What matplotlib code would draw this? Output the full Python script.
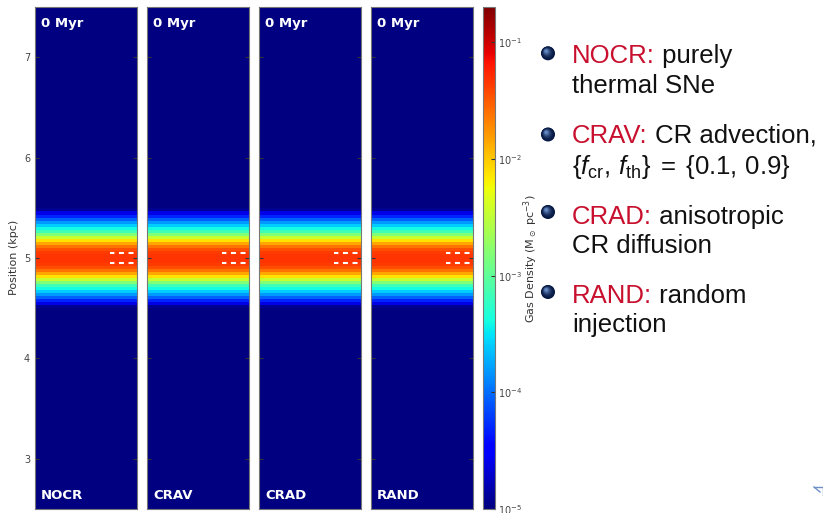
"""
gas density slices at t = 0 for the four runs, with bullet list of run names
"""

import numpy as np
import matplotlib.pyplot as plt
from matplotlib.colors import LogNorm, to_rgb
from matplotlib.patches import Circle

plt.rcParams['mathtext.fontset'] = 'dejavusans'
plt.rcParams['mathtext.rm'] = 'Liberation Sans'
plt.rcParams['mathtext.it'] = 'Liberation Sans:italic'
plt.rcParams['mathtext.bf'] = 'Liberation Sans:bold'

runs = ["NOCR", "CRAV", "CRAD", "RAND"]
time_label = "0 Myr"

# vertical density profile of the disc, offsets from midplane
disc_centre = 5.0  # kpc
offset_kpc = [0.00, 0.03, 0.06, 0.09, 0.12, 0.15, 0.18, 0.21, 0.24,
              0.27, 0.30, 0.33, 0.36, 0.39, 0.42, 0.45, 0.48]
density = [0.046, 0.046, 0.044, 0.036, 0.024, 0.014, 0.0075, 0.0035, 0.0015,
           7e-4, 4e-4, 2.5e-4, 1.5e-4, 9e-5, 5e-5, 2.5e-5, 1.2e-5]
background = 8e-6
z_range = (2.5, 7.5)
cell = 0.03

# markers of the injection region (white dashed lines)
inject_z = [5.05, 4.95]

d_min, d_max = 1e-5, 0.2

bullet_names = ["NOCR:", "CRAV:", "CRAD:", "RAND:"]
bullet_first = [" purely", " CR advection,", " anisotropic", " random"]
bullet_second = ["thermal SNe",
                 r"$\{f_{\mathrm{cr}},\, f_{\mathrm{th}}\}\;=\;\{0.1,\, 0.9\}$",
                 "CR diffusion", "injection"]

# build the 1-column image
z_off = np.concatenate([-np.array(offset_kpc[::-1]), np.array(offset_kpc[1:])])
dens = np.concatenate([np.array(density[::-1]), np.array(density[1:])])
z_c = disc_centre + z_off
edges = np.concatenate([[z_range[0]], z_c - cell / 2, [z_c[-1] + cell / 2, z_range[1]]])
vals = np.concatenate([[background], dens, [background]])

W, H = 823, 513
fig = plt.figure(figsize=(W / 100, H / 100), dpi=100)

top, bot = 7.3, 509
norm = LogNorm(vmin=d_min, vmax=d_max)
for i, run in enumerate(runs):
    x0 = 35 + 112 * i
    ax = fig.add_axes([x0 / W, (H - bot) / H, 101.7 / W, (bot - top) / H])
    mesh = ax.pcolormesh([0, 1], edges, vals[:, None], cmap='jet', norm=norm)
    for zz in inject_z:
        ax.plot([0.74, 1.0], [zz, zz], color='white', lw=1.5,
                linestyle=(0.3, (2.4, 2.2)), solid_capstyle='butt')
    ax.set_xlim(0, 1)
    ax.set_ylim(*z_range)
    ax.set_xticks([])
    ax.set_yticks([3, 4, 5, 6, 7])
    ax.tick_params(axis='y', direction='in', length=3, right=True, color='#333333',
                   labelsize=7, labelcolor='#444444', labelleft=(i == 0))
    for sp in ax.spines.values():
        sp.set_color('#777777')
        sp.set_linewidth(0.8)
    ax.text(0.06, 0.961, time_label, transform=ax.transAxes, color='white',
            fontsize=9.5, fontweight='bold', va='baseline')
    ax.text(0.06, 0.02, run, transform=ax.transAxes, color='white',
            fontsize=9.5, fontweight='bold', va='baseline')

cax = fig.add_axes([483.3 / W, (H - bot) / H, 11.7 / W, (bot - top) / H])
cb = fig.colorbar(mesh, cax=cax)
cb.ax.tick_params(which='major', direction='in', length=3, color='#333333',
                  labelsize=7, labelcolor='#444444', pad=2)
cb.ax.tick_params(which='minor', length=0)
cb.outline.set_edgecolor('#777777')
cb.outline.set_linewidth(0.8)

fig.text(14 / W, (H - 257) / H, "Position (kpc)", rotation=90, ha='center',
         va='center', fontsize=8, color='#333333')
fig.text(531 / W, (H - 259) / H, r"Gas Density (M$_\odot$ pc$^{-3}$)", rotation=90,
         ha='center', va='center', fontsize=8, color='#333333')

# bullet list on the right, in pixel coordinates
ov = fig.add_axes([0, 0, 1, 1])
ov.set_xlim(0, W)
ov.set_ylim(H, 0)
ov.axis('off')

red = '#c8102e'
ink = '#111111'
fs = 18.5
line1_y = [62.7, 142.7, 224.0, 302.7]
line2_y = [93.3, 174.0, 253.3, 331.7]
ball_y = [53.3, 134.5, 212.0, 292.0]

fig.canvas.draw()
rend = fig.canvas.get_renderer()
inv = ov.transData.inverted()
c_dark = np.array(to_rgb('#081a44'))
c_lite = np.array(to_rgb('#6f9ad6'))
for k in range(4):
    t = ov.text(572, line1_y[k], bullet_names[k], color=red, fontsize=fs,
                family='Liberation Sans', va='baseline')
    bb = t.get_window_extent(rend)
    xr = inv.transform((bb.x1, bb.y0))[0]
    ov.text(xr, line1_y[k], bullet_first[k], color=ink, fontsize=fs,
            family='Liberation Sans', va='baseline')
    ov.text(572, line2_y[k], bullet_second[k], color=ink, fontsize=fs,
            family='Liberation Sans', va='baseline', math_fontfamily='custom')
    # shaded sphere bullet
    n = 14
    r = 7.0
    for j in range(n):
        f = j / n
        ov.add_patch(Circle((548 - 2.0 * f, ball_y[k] - 2.4 * f), r * (1 - 0.85 * f),
                            color=c_dark + (c_lite - c_dark) * f ** 2, lw=0))

# bit of the navigation arrow in the corner
ov.plot([814, 823, 823], [487, 487, 495], color='#6f8fc8', lw=1)
ov.plot([814, 820], [487, 492], color='#6f8fc8', lw=1)

fig.savefig("out.png", dpi=100)
